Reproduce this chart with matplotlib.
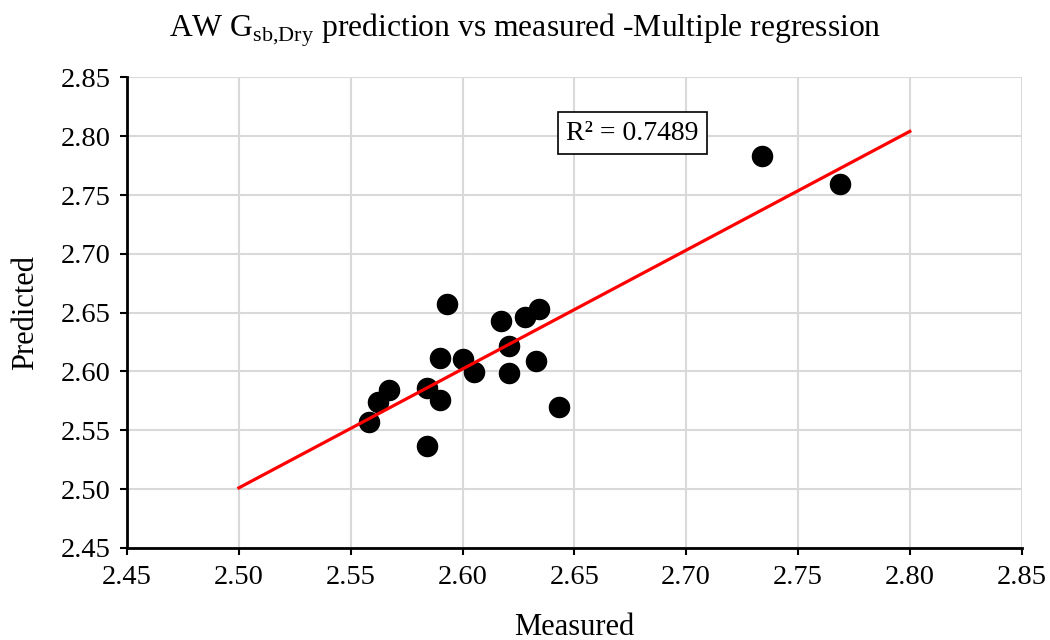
import numpy as np
import matplotlib.pyplot as plt

plt.rcParams['font.family'] = 'Liberation Serif'
plt.rcParams['mathtext.fontset'] = 'custom'
plt.rcParams['mathtext.rm'] = 'Liberation Serif'

# measured vs predicted values
measured = [2.558, 2.562, 2.567, 2.584, 2.584, 2.590, 2.590, 2.593, 2.600, 2.605,
            2.617, 2.621, 2.621, 2.628, 2.634, 2.633, 2.643, 2.734, 2.769]
predicted = [2.557, 2.574, 2.584, 2.5855, 2.537, 2.6115, 2.5755, 2.657, 2.611, 2.5996,
             2.643, 2.6214, 2.599, 2.6463, 2.6535, 2.6087, 2.5696, 2.783, 2.759]
trend_range = [2.50, 2.80]
r2_label = 'R² = 0.7489'

x = np.array(measured)
y = np.array(predicted)
slope, icpt = np.polyfit(x, y, 1)

fig = plt.figure(figsize=(10.5, 6.4), dpi=100)
ax = fig.add_axes([0.121, 0.144, 0.852, 0.735])

ax.scatter(x, y, s=210, color='black', zorder=3)
xl = np.array(trend_range)
ax.plot(xl, slope * xl + icpt, color='#ff0000', lw=2.3, zorder=4)

ax.set_xlim(2.45, 2.85)
ax.set_ylim(2.45, 2.85)
ticks = np.arange(2.45, 2.851, 0.05)
ax.set_xticks(ticks)
ax.set_yticks(ticks)
ax.set_xticklabels(['%.2f' % t for t in ticks])
ax.set_yticklabels(['%.2f' % t for t in ticks])
ax.grid(True, color='#d9d9d9', lw=1.5)
ax.set_axisbelow(True)
for s in ['top', 'right']:
    ax.spines[s].set_visible(False)
for s in ['left', 'bottom']:
    ax.spines[s].set_linewidth(2)
ax.tick_params(direction='out', length=5, width=1.5, labelsize=20.5, pad=7)

ax.set_xlabel('Measured', fontsize=22)
ax.set_ylabel('Predicted', fontsize=22)
ax.xaxis.set_label_coords(0.5, -0.138)
ax.yaxis.set_label_coords(-0.097, 0.5)
fig.text(0.5, 0.952,
         r'AW G$_{\mathregular{sb{,}Dry}}$ prediction vs measured -Multiple regression',
         fontsize=22.8, ha='center', va='center')

ax.text(2.676, 2.8026, r2_label, fontsize=20, ha='center', va='center',
        bbox=dict(boxstyle='square,pad=0.3', fc='white', ec='black', lw=1.2))

fig.savefig('out.png', dpi=100)
